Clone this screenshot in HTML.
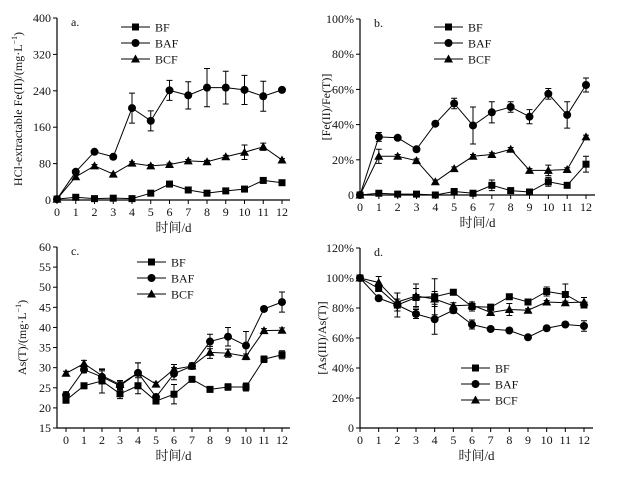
<!DOCTYPE html>
<html><head><meta charset="utf-8"><style>
body{margin:0;background:#fff}
svg text{font-family:"Liberation Serif","Noto Serif CJK SC","Noto Sans CJK SC",serif;fill:#111}
</style></head><body>
<svg id="fig" width="633" height="476" viewBox="0 0 633 476" xmlns="http://www.w3.org/2000/svg"></svg>
<script>
const days=[0,1,2,3,4,5,6,7,8,9,10,11,12];
const seriesNames=["BF","BAF","BCF"];
// panel a: HCl-extractable Fe(II)
const aBF=[2,6,3,4,3,15,35,22,15,20,24,43,38];
const aBAF=[2,62,106,95,202,174,241,230,247,247,242,228,242];
const aBCF=[2,51,75,57,81,75,78,86,84,95,105,117,88];
const aErrBF=[0,1,1,1,1,2,3,2,2,2,2,3,5];
const aErrBAF=[0,3,3,4,33,22,22,30,42,36,32,33,4];
const aErrBCF=[0,6,3,3,3,3,3,3,3,3,16,8,3];
const aTicks=[0,80,160,240,320,400];
// panel b: Fe(II)/Fe(T) %
const bBF=[0,1,0.5,0.5,0,2,1,5.5,2.5,1.7,7.5,5.5,17.5];
const bBAF=[0,33,32.5,26,40.5,52,39.5,47,50,44.5,57.5,45.5,62.5];
const bBCF=[0,22,22,19.5,7.5,15,22,23,26,14,14,14.5,33];
const bErrBF=[0,0.5,0.3,0.3,0.3,0.5,0.5,3,0.5,0.5,2.5,0.5,4.5];
const bErrBAF=[0,2.5,1,1,1,3,10.5,6,3,4,3,7.5,4];
const bErrBCF=[0,4,1,1,1,1,1,1,1,1,3,1,1];
const bTicks=[0,20,40,60,80,100];
const bTickLabels=["0","20%","40%","60%","80%","100%"];
// panel c: As(T)
const cBF=[21.9,25.5,26.7,23.5,25.5,21.7,23.4,27.1,24.6,25.2,25.2,32.1,33.2];
const cBAF=[23.2,29.5,27.7,25.5,28.7,22.7,28.5,30.4,36.5,37.7,35.5,44.6,46.3];
const cBCF=[28.6,31,28,25.8,28.7,25.9,29.6,30.4,33.8,33.6,32.8,39.2,39.3];
const cErrBF=[0.5,0.7,3,1.2,2,0.5,2.4,0.5,0.6,0.8,1,0.8,1];
const cErrBAF=[0.8,0.8,1.5,1,2.5,0.5,1.5,0.8,1.8,2.3,3.5,0.6,2.5];
const cErrBCF=[0.5,0.8,1.5,1,2.5,0.5,1.2,0.5,1.5,1,0.6,0.5,0.6];
const cTicks=[15,20,25,30,35,40,45,50,55,60];
// panel d: As(III)/As(T) %
const dBF=[100,93,82,87,87.5,90.5,81,80.5,87.5,84,91,89,82];
const dBAF=[100,86.5,82,76,72.5,78.5,69,66,65,60.5,66.5,69,68];
const dBCF=[100,97,84,88,86,81.5,82,77,79,78.5,84,83.5,84];
const dErrBF=[1,2,4,6,12,1,3,2,1,1,3,7,2];
const dErrBAF=[1,1,8,3,10,2,3,1,1,1,1,1,3.5];
const dErrBCF=[1,4,6,8,5,2,2,2,4,1,1,1,3];
const dTicks=[0,20,40,60,80,100,120];
const dTickLabels=["0","20%","40%","60%","80%","100%","120%"];

const NS="http://www.w3.org/2000/svg";
const svg=document.getElementById("fig");
function mk(tag,attrs,parent,text){const e=document.createElementNS(NS,tag);for(const k in attrs)e.setAttribute(k,attrs[k]);if(text!==undefined)e.textContent=text;(parent||svg).appendChild(e);return e;}
function marker(g,kind,x,y){
  let m;
  if(kind===0)m=mk("rect",{x:x-3.5,y:y-3.5,width:7,height:7,fill:"#000"},g);
  else if(kind===1)m=mk("circle",{cx:x,cy:y,r:4,fill:"#000"},g);
  else m=mk("polygon",{points:`${x},${y-4.5} ${x+4.5},${y+3.5} ${x-4.5},${y+3.5}`,fill:"#000"},g);
  return m;
}
function panel(o){
  const g=mk("g",{});
  
  
  const xs=v=>o.x0+(o.x12-o.x0)*v/12;
  const ys=v=>o.yb-(o.yb-o.yt)*(v-o.ymin)/(o.ymax-o.ymin);
  const ax=mk("path",{d:`M${o.ax},${o.yt} V${o.yb} H${o.axEnd}`,stroke:"#000","stroke-width":1.2,fill:"none"},g);
  
  
  o.ticks.forEach((t,i)=>{
    const y=ys(t);
    mk("line",{x1:o.ax-4,x2:o.ax,y1:y,y2:y,stroke:"#000"},g);
    const tl=mk("text",{x:o.ax-6,y:y+4,"text-anchor":"end","font-size":12},g,o.tickLabels?o.tickLabels[i]:t);
    
    
  });
  days.forEach(d=>{
    const x=xs(d);
    mk("line",{x1:x,x2:x,y1:o.yb,y2:o.yb+4,stroke:"#000"},g);
    const tl=mk("text",{x:x,y:o.yb+16,"text-anchor":"middle","font-size":12},g,d);
    
    
  });
  const xt=mk("text",{x:(o.ax+o.axEnd)/2,y:o.yb+32,"text-anchor":"middle","font-size":13},g,"时间/d");
  
  
  const yt=mk("text",{x:0,y:0,"text-anchor":"middle","font-size":12,transform:`translate(${o.ylx},${(o.yt+o.yb)/2}) rotate(-90)`},g);
  yt.innerHTML=o.ylabel;
  
  
  const pl=mk("text",{x:o.ax+14,y:o.yt+8,"font-size":12},g,o.letter);
  
  
  o.series.forEach((s,k)=>{
    const sg=mk("g",{},g);
    
    
    mk("polyline",{points:days.map(d=>xs(d)+","+ys(s[d])).join(" "),fill:"none",stroke:"#000","stroke-width":1},sg);
    days.forEach(d=>{
      const e=o.errs[k][d];
      if(e>0){
        const x=xs(d),y1=ys(s[d]+e),y2=ys(s[d]-e);
        mk("path",{d:`M${x},${y1}V${y2}M${x-3},${y1}H${x+3}M${x-3},${y2}H${x+3}`,stroke:"#000",fill:"none"},sg);
      }
      const m=marker(sg,k,xs(d),ys(s[d]));
      
      
    });
  });
  const lg=mk("g",{},g);
  
  
  seriesNames.forEach((n,k)=>{
    const y=o.legY+k*16;
    const le=mk("g",{},lg);
    
    
    mk("line",{x1:o.legX,x2:o.legX+29,y1:y,y2:y,stroke:"#000"},le);
    marker(le,k,o.legX+14.5,y);
    mk("text",{x:o.legX+34,y:y+4.5,"font-size":12},le,n);
  });
}
panel({name:"panel-a",letter:"a.",ax:57,axEnd:290,x0:57,x12:282,yt:18,yb:200,ymin:0,ymax:400,ticks:aTicks,
  series:[aBF,aBAF,aBCF],errs:[aErrBF,aErrBAF,aErrBCF],legX:121,legY:27,ylx:22,
  ylabel:'HCl-extractable Fe(II)/(mg·L<tspan dy="-5" font-size="8">−1</tspan><tspan dy="5">)</tspan>'});
panel({name:"panel-b",letter:"b.",ax:360,axEnd:595,x0:360,x12:586,yt:19,yb:195,ymin:0,ymax:100,ticks:bTicks,tickLabels:bTickLabels,
  series:[bBF,bBAF,bBCF],errs:[bErrBF,bErrBAF,bErrBCF],legX:434,legY:27,ylx:330,
  ylabel:'[Fe(II)/Fe(T)]'});
panel({name:"panel-c",letter:"c.",ax:57,axEnd:290,x0:66,x12:282,yt:247,yb:428,ymin:15,ymax:60,ticks:cTicks,
  series:[cBF,cBAF,cBCF],errs:[cErrBF,cErrBAF,cErrBCF],legX:137,legY:262,ylx:26,
  ylabel:'As(T)/(mg·L<tspan dy="-5" font-size="8">−1</tspan><tspan dy="5">)</tspan>'});
panel({name:"panel-d",letter:"d.",ax:360,axEnd:593,x0:360,x12:584,yt:248,yb:428,ymin:0,ymax:120,ticks:dTicks,tickLabels:dTickLabels,
  series:[dBF,dBAF,dBCF],errs:[dErrBF,dErrBAF,dErrBCF],legX:461,legY:368,ylx:326,
  ylabel:'[As(III)/As(T)]'});
</script>
</body></html>
